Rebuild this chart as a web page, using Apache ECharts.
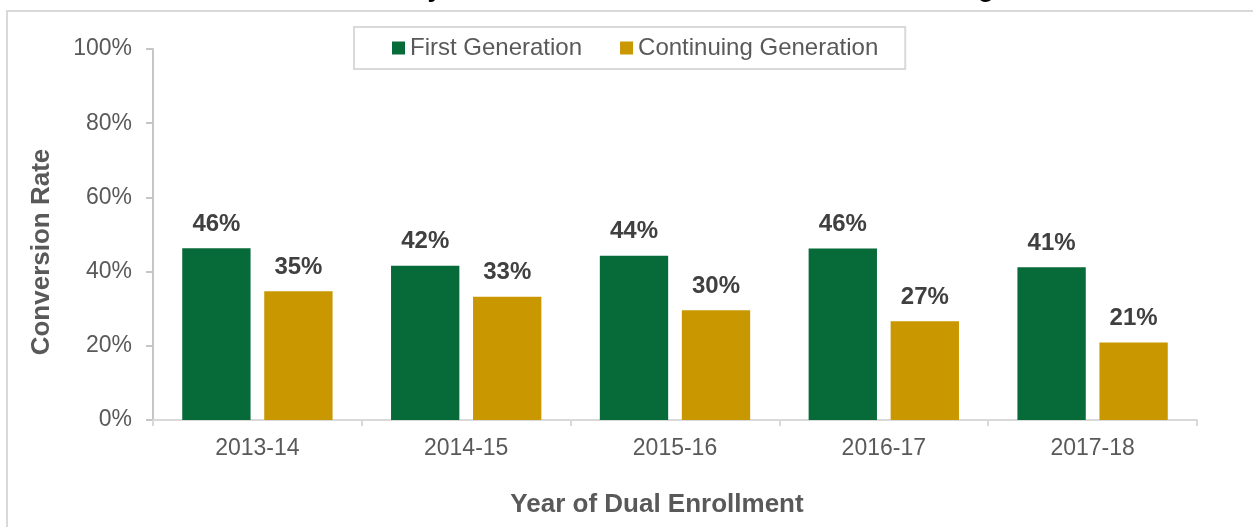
<!DOCTYPE html>
<html>
<head>
<meta charset="utf-8">
<script src="https://cdn.jsdelivr.net/npm/echarts@6/dist/echarts.min.js"></script>
<style>
  html, body { margin: 0; padding: 0; background: #ffffff; }
  #chart { width: 1253px; height: 527px; }
</style>
</head>
<body>
<div id="chart"></div>
<script>
var categories = ['2013-14', '2014-15', '2015-16', '2016-17', '2017-18'];
var seriesNames = ['First Generation', 'Continuing Generation'];
var firstGen = [46.3, 41.6, 44.3, 46.2, 41.2];
var continuingGen = [34.7, 33.2, 29.6, 26.6, 20.9];
var titleText = 'Conversion Rate by First Generation Status from 2013-14 through 2017-18';
var yAxisTitle = 'Conversion Rate';
var xAxisTitle = 'Year of Dual Enrollment';

var FONT = '"Liberation Sans", Arial, sans-serif';
var GREEN = '#066A39';
var GOLD = '#C99700';

var chart = echarts.init(document.getElementById('chart'), null, { renderer: 'canvas' });

var labelCfg = {
  show: true,
  position: 'top',
  distance: 12,
  color: '#404040',
  fontFamily: FONT,
  fontWeight: 'bold',
  fontSize: 24,
  formatter: function (p) { return Math.round(p.value) + '%'; }
};

chart.setOption({
  animation: false,
  backgroundColor: '#ffffff',
  textStyle: { fontFamily: FONT },
  grid: { left: 153, right: 56, top: 49, bottom: 107, containLabel: false },
  legend: {
    left: 354,
    top: 27,
    data: seriesNames,
    orient: 'horizontal',
    itemWidth: 13,
    itemHeight: 13,
    itemGap: 38,
    icon: 'rect',
    borderColor: '#D9D9D9',
    borderWidth: 2,
    padding: [9, 27, 9, 38],
    textStyle: { color: '#595959', fontSize: 24, fontFamily: FONT }
  },
  xAxis: {
    type: 'category',
    data: categories,
    axisLine: { show: true, lineStyle: { color: '#D9D9D9', width: 2 } },
    axisTick: { show: true, alignWithLabel: false, length: 6, lineStyle: { color: '#D9D9D9', width: 2 } },
    axisLabel: { color: '#595959', fontSize: 23, margin: 17, fontFamily: FONT }
  },
  yAxis: {
    type: 'value',
    min: 0,
    max: 100,
    interval: 20,
    axisLine: { show: true, lineStyle: { color: '#C6C6C6', width: 2 } },
    axisTick: { show: true, inside: false, length: 7, lineStyle: { color: '#C6C6C6', width: 2 } },
    splitLine: { show: false },
    axisLabel: { color: '#595959', fontSize: 23, margin: 21, fontFamily: FONT, formatter: '{value}%', padding: [4, 0, 0, 0] }
  },
  series: [
    {
      name: seriesNames[0],
      type: 'bar',
      data: firstGen,
      barGap: '20%',
      barCategoryGap: '28%',
      itemStyle: { color: GREEN },
      label: labelCfg
    },
    {
      name: seriesNames[1],
      type: 'bar',
      data: continuingGen,
      barGap: '20%',
      barCategoryGap: '28%',
      itemStyle: { color: GOLD },
      label: labelCfg
    }
  ],
  graphic: [
    {
      type: 'rect',
      silent: true,
      z: -1,
      shape: { x: 7, y: 11, width: 1400, height: 700 },
      style: { fill: 'none', stroke: '#D9D9D9', lineWidth: 2 }
    },
    {
      type: 'text',
      silent: true,
      style: {
        text: titleText,
        x: 655,
        y: 3,
        textAlign: 'center',
        textVerticalAlign: 'bottom',
        fill: '#000000',
        font: 'bold 26px ' + FONT
      }
    },
    {
      type: 'text',
      silent: true,
      x: 42,
      y: 252,
      rotation: Math.PI / 2,
      style: {
        text: yAxisTitle,
        x: 0,
        y: 0,
        textAlign: 'center',
        textVerticalAlign: 'middle',
        fill: '#595959',
        font: 'bold 26px ' + FONT
      }
    },
    {
      type: 'text',
      silent: true,
      style: {
        text: xAxisTitle,
        x: 657,
        y: 505,
        textAlign: 'center',
        textVerticalAlign: 'middle',
        fill: '#595959',
        font: 'bold 26px ' + FONT
      }
    }
  ]
});
</script>
</body>
</html>
